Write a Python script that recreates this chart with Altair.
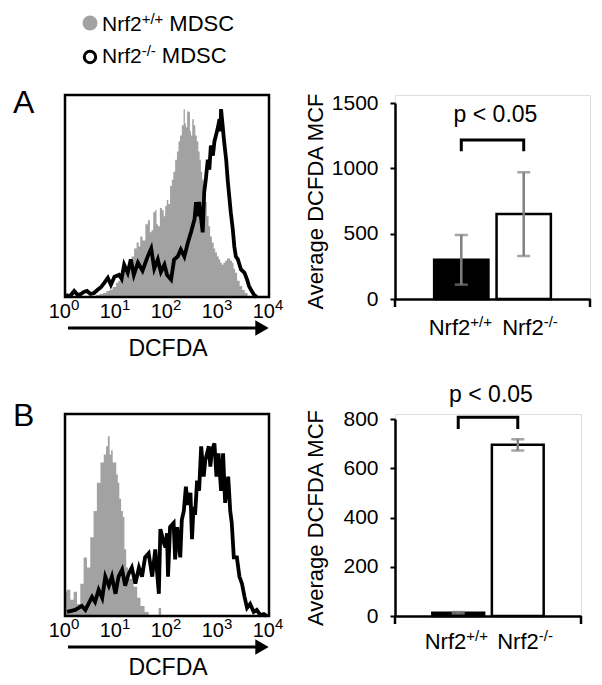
import altair as alt
import pandas as pd

FONT = "Liberation Sans"
GRAY = "#a2a2a2"
ERR_GRAY = "#808080"

# ---------------- data ----------------
groups = ["Nrf2+/+", "Nrf2-/-"]
group_base = ["Nrf2", "Nrf2"]
group_sup = ["+/+", "-/-"]
legend_base = ["Nrf2", "Nrf2"]
legend_sup = ["+/+", "-/-"]
legend_tail = ["MDSC", "MDSC"]
panel_letters = ["A", "B"]
decades = [0, 1, 2, 3, 4]
decade_base = ["10", "10", "10", "10", "10"]
decade_sup = ["0", "1", "2", "3", "4"]
x_title = "DCFDA"
y_title = "Average DCFDA MCF"
p_label = "p < 0.05"

# Panel A histograms (x in decades of fluorescence, y in % of frame height)
a_wt_dec = [0.50, 0.57, 0.64, 0.71, 0.78, 0.84, 0.90, 0.97, 1.03, 1.06, 1.12, 1.18, 1.23, 1.28,
            1.33, 1.38, 1.43, 1.46, 1.49, 1.55, 1.60, 1.65, 1.68, 1.71, 1.75, 1.78, 1.81, 1.84,
            1.88, 1.92, 1.95, 1.98, 2.01, 2.04, 2.08, 2.11, 2.14, 2.18, 2.21, 2.24, 2.27, 2.31,
            2.34, 2.36, 2.38, 2.41, 2.44, 2.46, 2.48, 2.51, 2.54, 2.57, 2.60, 2.63, 2.65, 2.68,
            2.70, 2.73, 2.76, 2.80, 2.83, 2.86, 2.90, 2.93, 2.96, 3.00, 3.03, 3.06, 3.09, 3.12,
            3.16, 3.19, 3.22, 3.26, 3.29, 3.32, 3.35, 3.40, 3.45, 3.50, 3.55, 3.61]
a_wt_pct = [0, 0.5, 1, 1.5, 2, 3, 3.6, 5, 7, 8, 10, 13, 15, 18,
            20, 24, 27, 25, 30, 28, 36, 38, 32, 33, 42, 43, 36, 35,
            44, 43, 40, 45, 48, 46, 55, 58, 62, 68, 72, 77, 80, 85,
            93, 86, 84, 92, 91.5, 82, 80, 88, 85, 80, 77, 72, 68, 62,
            58, 52, 47, 40, 35, 30, 27, 24, 22, 20, 18.6, 17, 16, 17,
            18, 19, 19, 18, 17, 14, 12, 8, 5.5, 3.5, 2, 0]
a_ko_dec = [0.02, 0.10, 0.18, 0.25, 0.31, 0.37, 0.43, 0.50, 0.57, 0.64, 0.71, 0.77, 0.84, 0.90,
            0.97, 1.06, 1.11, 1.16, 1.23, 1.29, 1.35, 1.43, 1.52, 1.62, 1.69, 1.75, 1.82, 1.88,
            1.95, 2.00, 2.08, 2.14, 2.21, 2.27, 2.34, 2.41, 2.47, 2.54, 2.57, 2.60, 2.63, 2.67,
            2.70, 2.73, 2.76, 2.80, 2.83, 2.86, 2.90, 2.93, 2.96, 2.99, 3.03, 3.05, 3.06, 3.09,
            3.12, 3.16, 3.19, 3.22, 3.25, 3.29, 3.32, 3.35, 3.39, 3.45, 3.52, 3.57, 3.61, 3.66,
            3.71, 3.76]
a_ko_pct = [1, 0.5, 3, 1, 1.5, 2.5, 3, 1.5, 2, 3.6, 5, 7, 9.5, 6,
            10, 11, 9, 16, 12, 18.6, 11, 17, 13, 20, 24, 14, 18.6, 12.4,
            16, 11, 8.6, 18.6, 20, 23.5, 20, 27, 32, 38.5, 47, 40, 47, 38.5,
            32, 52, 58, 68, 63, 75, 70, 77, 80, 83, 88, 82, 93, 85,
            77, 68, 58, 50, 42, 33.5, 25, 20, 18.6, 13.6, 12, 8.6, 5.3, 3,
            1, 0]

# Panel B histograms
b_wt_dec = [0.00, 0.07, 0.14, 0.20, 0.27, 0.33, 0.40, 0.46, 0.53, 0.59, 0.66, 0.73, 0.79, 0.82,
            0.86, 0.89, 0.92, 0.95, 0.99, 1.02, 1.05, 1.08, 1.12, 1.15, 1.18, 1.22, 1.25, 1.31,
            1.38, 1.45, 1.51, 1.61, 1.67, 1.80, 1.87, 1.90]
b_wt_pct = [12, 13, 8, 12, 6, 16, 29, 24, 39, 52, 66, 76, 80, 84,
            89, 80, 82, 76, 76, 70, 66, 58, 52, 49, 33, 24, 18.5, 18.5,
            14.5, 9, 5, 2, 0, 0, 4, 0]
b_ko_dec = [0.04, 0.20, 0.33, 0.40, 0.46, 0.53, 0.59, 0.66, 0.73, 0.79, 0.86, 0.92, 0.99, 1.05,
            1.12, 1.18, 1.25, 1.31, 1.38, 1.45, 1.51, 1.57, 1.64, 1.71, 1.77, 1.84, 1.87, 1.94,
            1.97, 2.00, 2.02, 2.06, 2.13, 2.16, 2.20, 2.26, 2.29, 2.33, 2.37, 2.41, 2.46, 2.49,
            2.52, 2.55, 2.59, 2.63, 2.67, 2.72, 2.75, 2.82, 2.85, 2.88, 2.93, 2.97, 3.01, 3.06,
            3.10, 3.14, 3.20, 3.24, 3.27, 3.31, 3.37, 3.42, 3.47, 3.52, 3.57, 3.63, 3.70, 3.76,
            3.83, 3.90, 3.96]
b_ko_pct = [2, 3, 5, 3, 6, 9.5, 7, 13, 9, 19.5, 15, 19.5, 11, 19.5,
            23, 15, 21, 24, 16, 24, 19.5, 29, 31, 19.5, 33, 11, 43, 36,
            34, 41, 19.5, 44, 46, 28, 44, 29, 47.5, 52, 64, 55, 61, 38,
            54, 50, 67, 62, 84, 69, 77, 84, 74, 82, 85.5, 69, 80.5, 62,
            80.5, 56, 69, 52, 46, 29, 29, 19.5, 16, 9.5, 4, 6, 2, 3,
            0.5, 1, 0]

# Bar charts (mean and error)
a_bar_mean = [300, 650]
a_bar_err = [190, 320]
b_bar_mean = [13, 695]
b_bar_err = [3, 23]
a_yticks = [0, 500, 1000, 1500]
b_yticks = [0, 200, 400, 600, 800]
a_bracket = [1130, 1217]
b_bracket = [759, 807]
a_p_y = 1354
b_p_y = 870

# ---------------- layout constants ----------------
HW, HH = 204, 202
PAD_IN, PAD_OUT = 0.13, 0.627
ARIAL = {'N': 722, 'r': 333, 'f': 278, '2': 556, '+': 584, '/': 278, '-': 333, ' ': 278}


def tw(s, size):
    return sum(ARIAL[c] for c in s) * size / 1000.0


one = pd.DataFrame({"k": [0]})


def txt(text, x, y, size, align="left", baseline="alphabetic"):
    return alt.Chart(one).mark_text(text=text, fontSize=size, align=align, baseline=baseline,
                                    color="black", font=FONT).encode(x=alt.value(x), y=alt.value(y))


def hist_panel(wt_dec, wt_pct, ko_dec, ko_pct, letter, letter_y, legend):
    xs = alt.Scale(type="log", domain=[1, 10000])
    ys = alt.Scale(domain=[0, 100])
    wt = pd.DataFrame({"x": [10 ** d for d in wt_dec], "y": wt_pct})
    ko = pd.DataFrame({"x": [10 ** d for d in ko_dec], "y": ko_pct})
    X = alt.X("x:Q", scale=xs, axis=None)
    Y = alt.Y("y:Q", scale=ys, axis=None)
    layers = [
        alt.Chart(wt).mark_area(interpolate="step", color=GRAY, opacity=1).encode(x=X, y=Y),
        alt.Chart(ko).mark_line(color="black", strokeWidth=3.8, strokeJoin="miter").encode(x=X, y=Y),
        alt.Chart(one).mark_rect(fillOpacity=0, stroke="black", strokeWidth=2.5).encode(
            x=alt.value(0), x2=alt.value(HW), y=alt.value(0), y2=alt.value(HH)),
    ]
    tdf = pd.DataFrame({"x": [10 ** d for d in decades], "base": decade_base, "sup": decade_sup})
    layers.append(alt.Chart(tdf).mark_text(align="right", baseline="alphabetic", dx=6, fontSize=20,
                                           color="black", font=FONT).encode(
        x=X, y=alt.value(HH + 21), text="base:N"))
    layers.append(alt.Chart(tdf).mark_text(align="left", baseline="alphabetic", dx=6, fontSize=15,
                                           color="black", font=FONT).encode(
        x=X, y=alt.value(HH + 13), text="sup:N"))
    layers.append(alt.Chart(one).mark_rule(color="black", strokeWidth=3).encode(
        x=alt.value(3), x2=alt.value(HW - 12), y=alt.value(HH + 31)))
    layers.append(alt.Chart(one).mark_point(shape="triangle-right", filled=True, size=240,
                                            color="black", opacity=1).encode(
        x=alt.value(HW - 7), y=alt.value(HH + 31)))
    layers.append(txt(x_title, HW / 2 + 1, HH + 59, 23, align="center"))
    layers.append(txt(letter, -52, letter_y, 32))
    if legend:
        ly = [-72, -38]
        by = [-64, -32]
        for i in range(2):
            if i == 0:
                layers.append(alt.Chart(one).mark_point(shape="circle", filled=True, size=225,
                                                        color=GRAY, opacity=1).encode(
                    x=alt.value(25), y=alt.value(ly[i])))
            else:
                layers.append(alt.Chart(one).mark_point(shape="circle", filled=False, size=130,
                                                        color="black", strokeWidth=3, opacity=1).encode(
                    x=alt.value(25), y=alt.value(ly[i])))
            x0 = 37
            layers.append(txt(legend_base[i], x0, by[i], 21))
            x1 = x0 + tw(legend_base[i], 21)
            layers.append(txt(legend_sup[i], x1, by[i] - 7, 15))
            x2 = x1 + tw(legend_sup[i], 15) + 6
            layers.append(txt(legend_tail[i], x2, by[i], 22))
    return alt.layer(*layers).properties(width=HW, height=HH)


def bar_panel(means, errs, W, H, top, dmax, yticks, bracket, p_y, lab_y, lab_dx):
    df = pd.DataFrame({
        "g": groups, "m": means,
        "lo": [m - e for m, e in zip(means, errs)],
        "hi": [m + e for m, e in zip(means, errs)],
        "fill": ["black", "white"],
        "base": group_base, "sup": group_sup,
    })
    xs = alt.Scale(domain=groups, paddingInner=PAD_IN, paddingOuter=PAD_OUT)
    ys = alt.Scale(domain=[0, dmax], range=[H, top], nice=False)
    xaxis = alt.Axis(labels=False, ticks=False, title=None, domainColor="black",
                     domainWidth=2.5, grid=False)
    yaxis = alt.Axis(values=yticks, format="d", title=y_title, titleFontSize=22, titleFont=FONT,
                     titleFontWeight="normal", titleColor="black", titleX=-73,
                     titleBaseline="alphabetic", labelFontSize=21, labelFont=FONT,
                     labelColor="black", tickSize=5, tickWidth=2, tickColor="black",
                     domainColor="black", domainWidth=2.5, labelPadding=12, grid=False)
    X = alt.X("g:N", scale=xs, axis=xaxis)
    layers = [
        alt.Chart(df).mark_bar(stroke="black", strokeWidth=2.5).encode(
            x=X, y=alt.Y("m:Q", scale=ys, axis=yaxis), fill=alt.Fill("fill:N", scale=None)),
        alt.Chart(df).mark_rule(color=ERR_GRAY, strokeWidth=2.5).encode(
            x=X, y=alt.Y("lo:Q", scale=ys, axis=yaxis), y2="hi:Q"),
        alt.Chart(df).mark_tick(color=ERR_GRAY, thickness=2.5, size=13).encode(
            x=X, y=alt.Y("lo:Q", scale=ys, axis=yaxis)),
        alt.Chart(df).mark_tick(color=ERR_GRAY, thickness=2.5, size=13).encode(
            x=X, y=alt.Y("hi:Q", scale=ys, axis=yaxis)),
    ]
    br = pd.DataFrame({"g": [groups[0], groups[0], groups[1], groups[1]],
                       "v": [bracket[0], bracket[1], bracket[1], bracket[0]],
                       "o": [0, 1, 2, 3]})
    layers.append(alt.Chart(br).mark_line(color="black", strokeWidth=3).encode(
        x=X, y=alt.Y("v:Q", scale=ys, axis=yaxis), order="o:Q"))
    step = W / (2 - PAD_IN + 2 * PAD_OUT)
    mid = step * PAD_OUT + step * (1 - PAD_IN) / 2 + step / 2
    layers.append(alt.Chart(one).mark_text(text=p_label, fontSize=23, baseline="alphabetic",
                                           align="center", color="black", font=FONT).encode(
        x=alt.value(mid + 3), y=alt.datum(p_y)))
    for xv in (0, W):
        layers.append(alt.Chart(one).mark_rule(color="black", strokeWidth=2.5).encode(
            x=alt.value(xv), y=alt.value(H), y2=alt.value(H + 8)))
    for i, g in enumerate(groups):
        sub = alt.Chart(df).transform_filter(alt.datum.g == g)
        layers.append(sub.mark_text(align="right", baseline="alphabetic", dx=lab_dx[i], fontSize=22,
                                    color="black", font=FONT).encode(
            x=X, y=alt.value(lab_y), text="base:N"))
        layers.append(sub.mark_text(align="left", baseline="alphabetic", dx=lab_dx[i], fontSize=15,
                                    color="black", font=FONT).encode(
            x=X, y=alt.value(lab_y - 8), text="sup:N"))
    return alt.layer(*layers).properties(width=W, height=H)


histA = hist_panel(a_wt_dec, a_wt_pct, a_ko_dec, a_ko_pct, panel_letters[0], 18, True)
barA = bar_panel(a_bar_mean, a_bar_err, 195, 204, 8, 1500, a_yticks, a_bracket, a_p_y, 240, [9, 20])
histB = hist_panel(b_wt_dec, b_wt_pct, b_ko_dec, b_ko_pct, panel_letters[1], 12, False)
barB = bar_panel(b_bar_mean, b_bar_err, 186, 202, 5, 800, b_yticks, b_bracket, b_p_y, 235, [8, 21])

chart = alt.concat(histA, barA, histB, barB, columns=2,
                   spacing={"row": 115, "column": 126}, bounds="flush").properties(
    padding={"left": 4, "top": 3, "right": 0, "bottom": 0}
).configure_view(stroke=None).configure(font=FONT)

chart.save("out.html", embed_options={"renderer": "svg", "actions": False})
